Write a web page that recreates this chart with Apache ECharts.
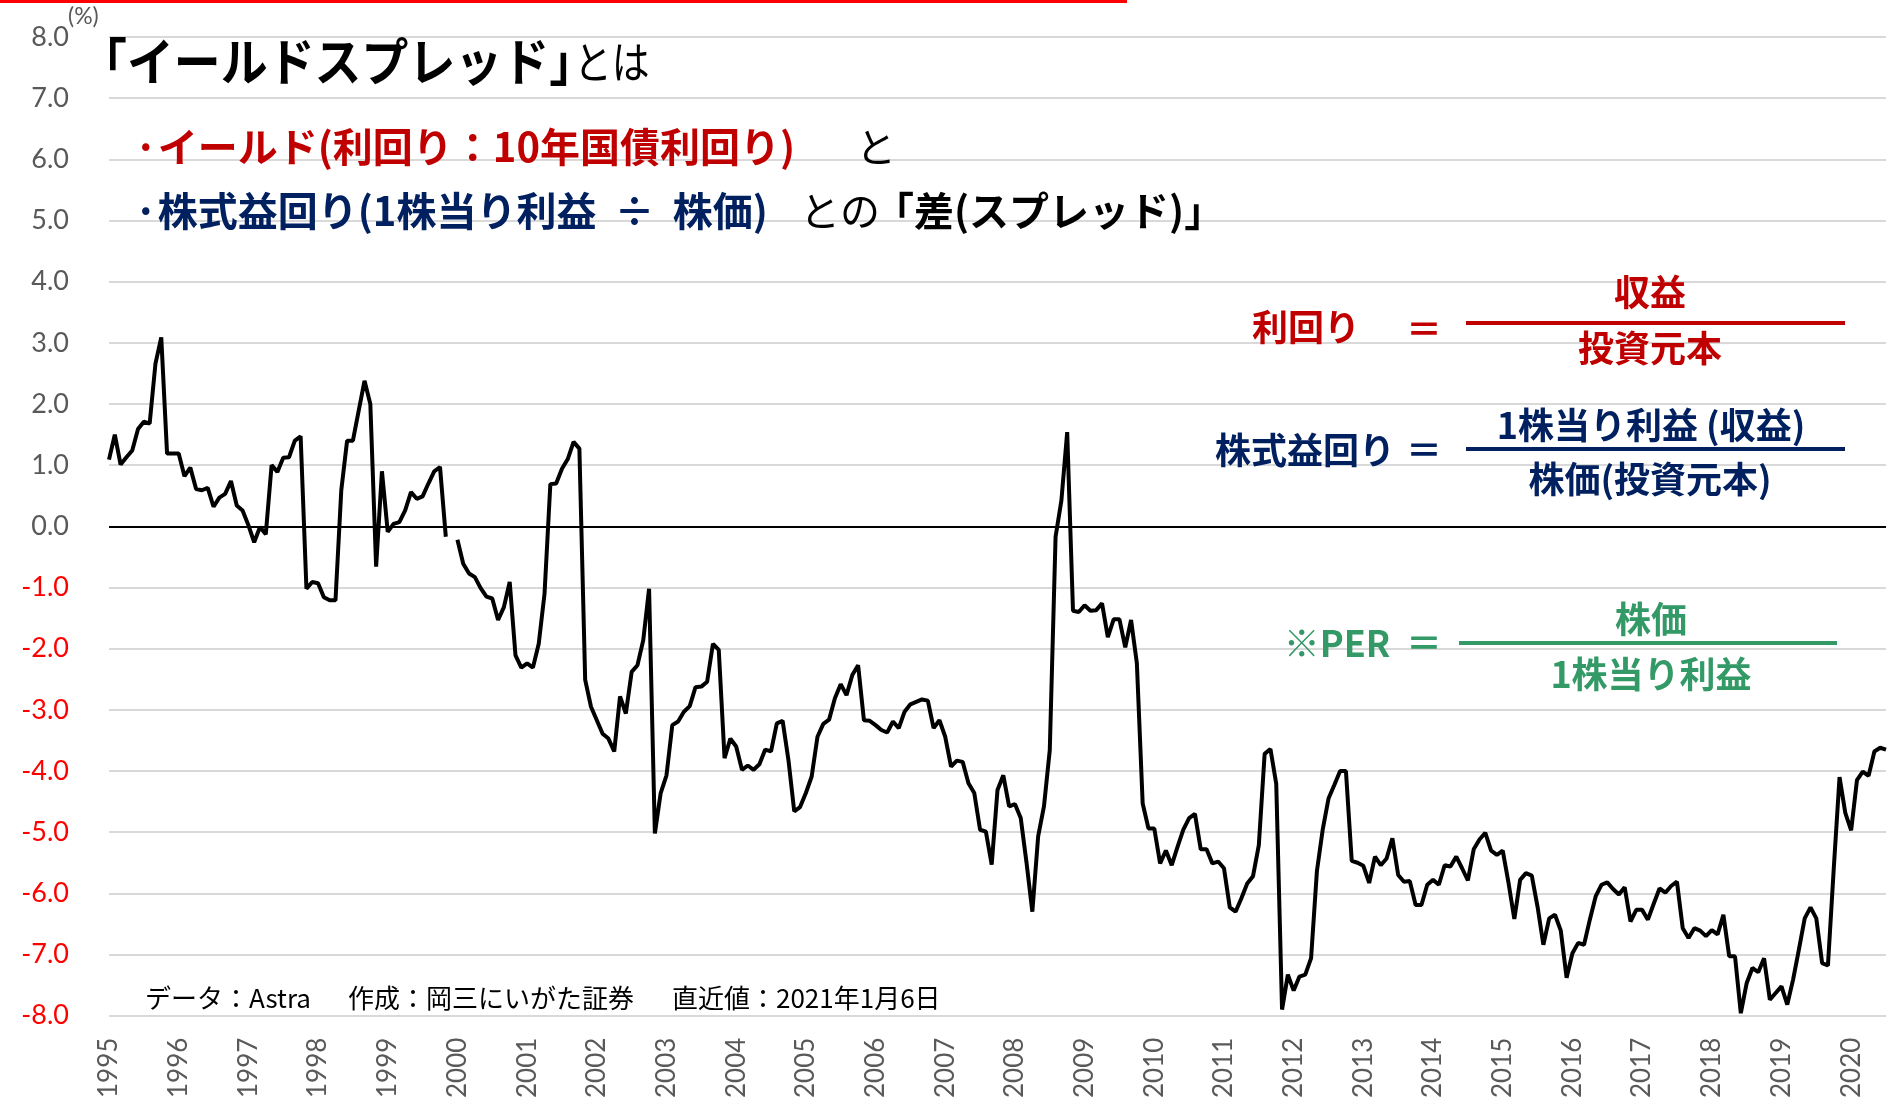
<!DOCTYPE html>
<html>
<head>
    <meta charset="utf-8">
    <title>イールドスプレッド</title>
    <script src="https://cdn.jsdelivr.net/npm/echarts@6/dist/echarts.min.js"></script>
    <style>
        html, body { margin: 0; padding: 0; background: #fff; }
        #main { width: 1890px; height: 1101px; }
    </style>
</head>
<body>
    <div id="main"></div>
    <script type="text/javascript">
        // 年 (x軸ラベル)
        var years = ['1995','1996','1997','1998','1999','2000','2001','2002','2003','2004','2005','2006','2007',
                     '2008','2009','2010','2011','2012','2013','2014','2015','2016','2017','2018','2019','2020'];
        // イールドスプレッド (%), 月次 1995年1月〜2020年7月
        var spread = [
            1.09, 1.50, 1.01, 1.13, 1.24, 1.59, 1.71, 1.68, 2.66, 3.09, 1.19, 1.19,
            1.19, 0.82, 0.96, 0.61, 0.59, 0.63, 0.32, 0.47, 0.53, 0.74, 0.34, 0.26,
            0.02, -0.26, -0.01, -0.13, 1.00, 0.89, 1.12, 1.13, 1.40, 1.47, -1.02, -0.91,
            -0.93, -1.16, -1.21, -1.21, 0.59, 1.40, 1.40, 1.89, 2.38, 2.00, -0.66, 0.90,
            -0.09, 0.04, 0.07, 0.26, 0.56, 0.45, 0.49, 0.70, 0.90, 0.97, -0.17, null,
            -0.22, -0.61, -0.77, -0.83, -1.01, -1.15, -1.18, -1.53, -1.32, -0.91, -2.11, -2.31,
            -2.24, -2.31, -1.92, -1.10, 0.69, 0.70, 0.94, 1.10, 1.38, 1.27, -2.51, -2.95,
            -3.17, -3.39, -3.47, -3.68, -2.78, -3.06, -2.38, -2.27, -1.86, -1.02, -5.02, -4.36,
            -4.07, -3.25, -3.19, -3.03, -2.94, -2.63, -2.62, -2.54, -1.92, -2.02, -3.79, -3.47,
            -3.60, -3.98, -3.91, -3.98, -3.89, -3.65, -3.68, -3.22, -3.18, -3.82, -4.66, -4.59,
            -4.36, -4.09, -3.44, -3.23, -3.16, -2.81, -2.58, -2.76, -2.43, -2.27, -3.17, -3.18,
            -3.25, -3.33, -3.37, -3.19, -3.30, -3.03, -2.91, -2.87, -2.83, -2.85, -3.30, -3.17,
            -3.44, -3.93, -3.83, -3.85, -4.20, -4.36, -4.96, -4.99, -5.53, -4.31, -4.07, -4.58,
            -4.54, -4.77, -5.50, -6.30, -5.07, -4.58, -3.66, -0.17, 0.42, 1.54, -1.38, -1.40,
            -1.29, -1.38, -1.37, -1.26, -1.81, -1.52, -1.52, -1.98, -1.53, -2.24, -4.53, -4.94,
            -4.94, -5.51, -5.30, -5.54, -5.24, -4.96, -4.77, -4.70, -5.28, -5.28, -5.51, -5.48,
            -5.59, -6.23, -6.30, -6.08, -5.84, -5.72, -5.21, -3.72, -3.64, -4.21, -7.90, -7.33,
            -7.59, -7.36, -7.33, -7.06, -5.64, -4.96, -4.45, -4.23, -4.00, -4.00, -5.47, -5.50,
            -5.55, -5.83, -5.40, -5.54, -5.43, -5.10, -5.70, -5.81, -5.80, -6.19, -6.19, -5.86,
            -5.78, -5.86, -5.54, -5.56, -5.40, -5.59, -5.79, -5.28, -5.12, -5.01, -5.30, -5.37,
            -5.30, -5.83, -6.42, -5.78, -5.67, -5.71, -6.22, -6.84, -6.41, -6.35, -6.61, -7.38,
            -6.98, -6.81, -6.84, -6.43, -6.05, -5.86, -5.82, -5.93, -6.02, -5.90, -6.46, -6.27,
            -6.27, -6.43, -6.17, -5.92, -5.99, -5.88, -5.81, -6.57, -6.73, -6.57, -6.61, -6.70,
            -6.60, -6.67, -6.35, -7.03, -7.03, -7.96, -7.47, -7.22, -7.29, -7.06, -7.74, -7.63,
            -7.52, -7.82, -7.41, -6.92, -6.41, -6.23, -6.41, -7.14, -7.18, -5.60, -4.10, -4.69,
            -4.97, -4.15, -4.01, -4.08, -3.68, -3.62, -3.65
        ];

        // 月次カテゴリ
        var months = [];
        years.forEach(function (y) {
            for (var m = 1; m <= 12; m++) {
                months.push(y + '-' + (m < 10 ? '0' + m : m));
            }
        });
        months = months.slice(0, spread.length);

        var JP = '"Noto Sans CJK JP", sans-serif';
        var NUM = 'Lato, "Noto Sans", sans-serif';
        var RED = '#C00000', NAVY = '#002060', GREEN = '#339966';

        function txt(x, y, text, size, color, weight, align, sx) {
            return {
                type: 'text', x: x, y: y, z: 100, scaleX: sx || 1,
                style: {
                    text: text, fill: color, fontSize: size, fontWeight: weight || 'normal',
                    fontFamily: JP, align: align || 'left', verticalAlign: 'middle'
                }
            };
        }
        function bar(x1, x2, y, color) {
            return { type: 'line', z: 100, shape: { x1: x1, y1: y, x2: x2, y2: y },
                     style: { stroke: color, lineWidth: 4 } };
        }

        var myChart = echarts.init(document.getElementById('main'));
        var option = {
            backgroundColor: '#ffffff',
            animation: false,
            grid: { left: 109, right: 4, top: 37, bottom: 84 },
            xAxis: {
                type: 'category',
                data: months,
                boundaryGap: false,
                axisLine: { show: false },
                axisTick: { show: false },
                splitLine: { show: false },
                axisLabel: {
                    interval: function (i) { return i % 12 === 0; },
                    formatter: function (v) { return v.slice(0, 4); },
                    rotate: 90,
                    margin: 22,
                    color: '#595959',
                    fontSize: 26,
                    fontFamily: NUM
                }
            },
            yAxis: {
                type: 'value',
                min: -8,
                max: 8,
                interval: 1,
                axisLine: { show: false },
                axisTick: { show: false },
                splitLine: { lineStyle: { color: '#D9D9D9', width: 2 } },
                axisLabel: {
                    margin: 40,
                    fontSize: 27,
                    fontFamily: NUM,
                    formatter: function (v) {
                        return v < 0 ? '{n|' + v.toFixed(1) + '}' : '{p|' + v.toFixed(1) + '}';
                    },
                    rich: {
                        n: { color: '#FF0000', fontSize: 27, fontFamily: NUM },
                        p: { color: '#595959', fontSize: 27, fontFamily: NUM }
                    }
                }
            },
            series: [{
                type: 'line',
                data: spread,
                showSymbol: false,
                connectNulls: false,
                lineStyle: { color: '#000000', width: 4 },
                itemStyle: { color: '#000000' },
                markLine: {
                    silent: true,
                    symbol: 'none',
                    label: { show: false },
                    lineStyle: { color: '#000000', width: 2, type: 'solid' },
                    data: [{ yAxis: 0 }]
                }
            }],
            graphic: [
                { type: 'rect', z: 100, shape: { x: 0, y: 0, width: 1127, height: 3 }, style: { fill: '#FF0000' } },
                { type: 'text', x: 68, y: 17, z: 100,
                  style: { text: '(%)', fill: '#595959', fontSize: 23, fontFamily: NUM, verticalAlign: 'middle' } },
                // タイトル
                txt(80, 62, '「イールドスプレッド」', 51, '#000', 'bold', 'left', 0.92),
                txt(574, 62, 'とは', 44, '#000', 'normal', 'left', 0.86),
                txt(134, 147, '·イールド(利回り：10年国債利回り)', 40, RED, 'bold'),
                txt(856, 147, 'と', 40, '#000'),
                txt(134, 211, '·株式益回り(1株当り利益  ÷  株価)', 40, NAVY, 'bold'),
                txt(800, 211, 'との', 40, '#000'),
                txt(874, 211, '「差(スプレッド)」', 40, '#000', 'bold'),
                // 利回り
                txt(1306, 327, '利回り', 36, RED, 'bold', 'center'),
                txt(1424, 329, '＝', 36, RED, 'bold', 'center'),
                bar(1466, 1845, 323, RED),
                txt(1650, 292, '収益', 36, RED, 'bold', 'center'),
                txt(1650, 348, '投資元本', 36, RED, 'bold', 'center'),
                // 株式益回り
                txt(1305, 450, '株式益回り', 36, NAVY, 'bold', 'center'),
                txt(1424, 450, '＝', 36, NAVY, 'bold', 'center'),
                bar(1466, 1845, 449, NAVY),
                txt(1651, 425, '1株当り利益 (収益)', 36, NAVY, 'bold', 'center'),
                txt(1650, 479, '株価(投資元本)', 36, NAVY, 'bold', 'center'),
                // PER
                txt(1337, 643, '※PER', 36, GREEN, 'bold', 'center'),
                txt(1424, 643, '＝', 36, GREEN, 'bold', 'center'),
                bar(1459, 1837, 643, GREEN),
                txt(1651, 619, '株価', 36, GREEN, 'bold', 'center'),
                txt(1651, 674, '1株当り利益', 36, GREEN, 'bold', 'center'),
                // 出所
                txt(145, 998, 'データ：Astra', 26, '#000'),
                txt(348, 998, '作成：岡三にいがた証券', 26, '#000'),
                txt(672, 998, '直近値：2021年1月6日', 26, '#000')
            ]
        };
        myChart.setOption(option);
    </script>
</body>
</html>
